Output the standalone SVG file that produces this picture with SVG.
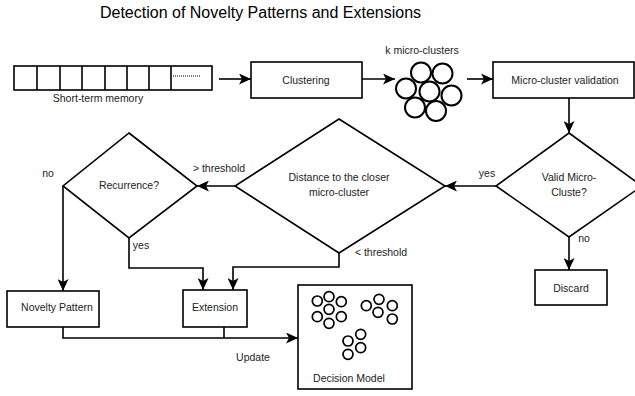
<svg xmlns="http://www.w3.org/2000/svg" width="635" height="396" viewBox="0 0 635 396">
<style>
  .box{fill:#fff;stroke:#000;stroke-width:1.6}
  .ln{fill:none;stroke:#000;stroke-width:1.6}
  .ar{fill:none;stroke:#000;stroke-width:1.6;marker-end:url(#ah)}
  .c{fill:none;stroke:#000;stroke-width:2}
  .cs{fill:none;stroke:#000;stroke-width:1.7}
  text{font-family:"Liberation Sans",Arial,sans-serif;font-size:10.5px;fill:#222;text-anchor:middle}
  .title{font-size:16px;fill:#000}
</style>
<defs>
  <marker id="ah" markerUnits="userSpaceOnUse" markerWidth="13" markerHeight="11" refX="12" refY="5.5" orient="auto">
    <path d="M0,0 L12,5.5 L0,11 L3,5.5 Z" fill="#000"/>
  </marker>
</defs>
<rect width="635" height="396" fill="#fff"/>
<text class="title" x="260.5" y="18">Detection of Novelty Patterns and Extensions</text>

<g id="memory">
  <rect class="box" x="14" y="66" width="198" height="24"/>
  <path class="ln" d="M37,66V90M60,66V90M82,66V90M105,66V90M127,66V90M149,66V90M171,66V90"/>
  <line x1="173" y1="76" x2="200" y2="76" stroke="#000" stroke-width="1" stroke-dasharray="1,1"/>
  <text x="98" y="102">Short-term memory</text>
</g>

<g id="clustering">
  <rect class="box" x="251" y="62" width="111" height="36"/>
  <text x="306" y="84">Clustering</text>
</g>

<g id="micro-clusters">
  <text x="422" y="54">k micro-clusters</text>
  <circle class="c" cx="421" cy="72.5" r="10"/>
  <circle class="c" cx="442.5" cy="73.5" r="10"/>
  <circle class="c" cx="406" cy="88.5" r="10"/>
  <circle class="c" cx="429.5" cy="91.5" r="10"/>
  <circle class="c" cx="451.5" cy="95.5" r="10"/>
  <circle class="c" cx="415" cy="107.5" r="10"/>
  <circle class="c" cx="436" cy="111" r="10"/>
</g>

<g id="validation">
  <rect class="box" x="493" y="62" width="141" height="36"/>
  <text x="565" y="84">Micro-cluster validation</text>
</g>

<g id="valid">
  <polygon class="box" points="569,133 642,186 569,237 496,186"/>
  <text x="569" y="180.5">Valid Micro-</text>
  <text x="569" y="195.5">Cluste?</text>
</g>

<g id="discard">
  <rect class="box" x="535" y="270" width="72" height="35"/>
  <text x="571" y="292">Discard</text>
</g>

<g id="distance">
  <polygon class="box" points="339,119 445,186 339,253 235,186"/>
  <text x="339" y="181">Distance to the closer</text>
  <text x="339" y="196">micro-cluster</text>
</g>

<g id="recurrence">
  <polygon class="box" points="129,133 197,186 129,238 63,186"/>
  <text x="129" y="189">Recurrence?</text>
</g>

<g id="novelty">
  <rect class="box" x="7" y="291" width="92" height="36"/>
  <text x="57" y="311">Novelty Pattern</text>
</g>

<g id="extension">
  <rect class="box" x="183" y="290" width="64" height="37"/>
  <text x="215" y="311">Extension</text>
</g>

<g id="decision-model">
  <rect class="box" x="298" y="285" width="114" height="104"/>
  <circle class="cs" cx="317.3" cy="301" r="5"/>
  <circle class="cs" cx="329" cy="296.7" r="5"/>
  <circle class="cs" cx="341.3" cy="301.7" r="5"/>
  <circle class="cs" cx="317.3" cy="316.7" r="5"/>
  <circle class="cs" cx="329" cy="309.3" r="5"/>
  <circle class="cs" cx="341.3" cy="316.7" r="5"/>
  <circle class="cs" cx="329" cy="323.3" r="5"/>
  <circle class="cs" cx="366.3" cy="305.7" r="5"/>
  <circle class="cs" cx="379" cy="299.3" r="5"/>
  <circle class="cs" cx="392.3" cy="305.7" r="5"/>
  <circle class="cs" cx="378" cy="312.3" r="5"/>
  <circle class="cs" cx="392.3" cy="319" r="5"/>
  <circle class="cs" cx="360.7" cy="334.3" r="5"/>
  <circle class="cs" cx="348" cy="341" r="5"/>
  <circle class="cs" cx="360.7" cy="347.7" r="5"/>
  <circle class="cs" cx="348" cy="354.3" r="5"/>
  <text x="349" y="382">Decision Model</text>
</g>

<g id="connectors">
  <line class="ar" x1="219" y1="79" x2="251" y2="79"/>
  <line class="ar" x1="362" y1="79" x2="395" y2="79"/>
  <line class="ar" x1="467" y1="79" x2="493" y2="79"/>
  <line class="ar" x1="569" y1="98" x2="569" y2="133"/>
  <line class="ar" x1="496" y1="186" x2="445" y2="186"/>
  <line class="ar" x1="569" y1="237" x2="569" y2="270"/>
  <line class="ar" x1="235" y1="186" x2="197" y2="186"/>
  <path class="ar" d="M63,186 V291"/>
  <path class="ar" d="M129,238 V268 H203 V290"/>
  <path class="ar" d="M339,253 V267 H233 V290"/>
  <path class="ar" d="M63,327 V338 H298"/>
  <path class="ln" d="M224,327 V338"/>
  <text x="487" y="177">yes</text>
  <text x="584" y="242">no</text>
  <text x="48" y="176.5">no</text>
  <text x="219" y="171.5">&gt; threshold</text>
  <text x="141" y="249">yes</text>
  <text x="381" y="255.5">&lt; threshold</text>
  <text x="253" y="360.5">Update</text>
</g>
</svg>
